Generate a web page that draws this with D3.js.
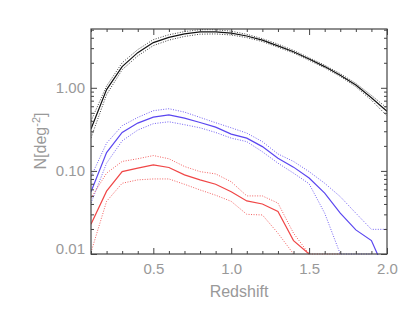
<!DOCTYPE html>
<html>
<head>
<meta charset="utf-8">
<script src="https://cdn.jsdelivr.net/npm/d3@7"></script>
<style>
  body{margin:0;background:#fff;}
  text{font-family:"Liberation Sans",Arial,sans-serif;}
</style>
</head>
<body>
<script>
// redshift grid
var redshift=[0.1,0.2,0.3,0.4,0.5,0.6,0.7,0.8,0.9,1.0,1.1,1.2,1.3,1.4,1.5,1.6,1.7,1.8,1.9,2.0];

// black
var blackMid=[0.32,0.95,1.8,2.65,3.5,4.05,4.45,4.7,4.72,4.55,4.2,3.75,3.2,2.72,2.22,1.8,1.42,1.08,0.76,0.52];
var blackHi=[0.4,1.05,2.0,2.88,3.8,4.35,4.75,5.0,5.0,4.8,4.4,3.9,3.35,2.82,2.3,1.87,1.48,1.13,0.81,0.57];
var blackLo=[0.25,0.83,1.65,2.42,3.22,3.75,4.15,4.42,4.45,4.32,4.02,3.6,3.08,2.62,2.14,1.74,1.37,1.03,0.71,0.46];

// blue
var blueMid=[0.056,0.166,0.29,0.376,0.444,0.473,0.431,0.382,0.336,0.277,0.248,0.196,0.142,0.111,0.082,0.054,0.031,0.0195,0.0145,0.0055];
var blueHi=[0.085,0.216,0.35,0.44,0.53,0.56,0.51,0.44,0.38,0.33,0.285,0.225,0.16,0.13,0.098,0.071,0.049,0.031,0.0198,0.0198];
var blueLo=[0.041,0.124,0.23,0.31,0.37,0.39,0.36,0.33,0.29,0.248,0.225,0.17,0.124,0.094,0.07,0.031,0.01,0.01,0.01,null];

// red
var redMid=[0.0228,0.057,0.098,0.108,0.118,0.11,0.0895,0.078,0.069,0.056,0.0435,0.04,0.0324,0.0145,0.01,null,null,null,null,null];
var redHi=[0.047,0.094,0.13,0.14,0.153,0.14,0.113,0.098,0.092,0.074,0.05,0.05,0.041,0.0178,0.01,0.01,0.01,null,null,null];
var redLo=[0.0105,0.043,0.071,0.078,0.08,0.08,0.069,0.059,0.051,0.043,0.03,0.0295,0.0178,0.01,null,null,null,null,null,null];

var xMajor=[0.5,1.0,1.5,2.0];
var yMajor=[0.01,0.1,1];

var drawChart=function()
{
  var screen={width:415,height:312};
  var margins={top:29,bottom:58,left:91,right:28};
  var width=screen.width-margins.left-margins.right;
  var height=screen.height-margins.top-margins.bottom;

  var svg=d3.select("body").append("svg")
            .attr("width",screen.width)
            .attr("height",screen.height);

  var xScale=d3.scaleLinear().domain([0.1,2.0]).range([0,width]);
  var yScale=d3.scaleLog().domain([0.01,5.1]).range([height,0]);

  var plot=svg.append("g")
              .attr("transform","translate("+margins.left+","+margins.top+")");

  plot.append("clipPath").attr("id","clip")
      .append("rect").attr("width",width).attr("height",height+1);

  var series=[
    {vals:blackHi,color:"#222",dash:"1,1.5"},
    {vals:blackLo,color:"#222",dash:"1,1.5"},
    {vals:blackMid,color:"#111",dash:null},
    {vals:blueHi,color:"#5a46f0",dash:"1,1.5"},
    {vals:blueLo,color:"#5a46f0",dash:"1,1.5"},
    {vals:blueMid,color:"#5a46f0",dash:null},
    {vals:redHi,color:"#f04646",dash:"1,1.5"},
    {vals:redLo,color:"#f04646",dash:"1,1.5"},
    {vals:redMid,color:"#f04646",dash:null}
  ];

  var line=d3.line()
             .defined(function(d){return d.v!=null;})
             .x(function(d){return xScale(d.z);})
             .y(function(d){return yScale(d.v);});

  plot.append("g").attr("clip-path","url(#clip)")
      .selectAll("path")
      .data(series)
      .enter()
      .append("path")
      .attr("fill","none")
      .attr("stroke",function(d){return d.color;})
      .attr("stroke-width",function(d){return d.dash?1:1.2;})
      .attr("stroke-opacity",function(d){return d.dash?0.85:1;})
      .attr("stroke-dasharray",function(d){return d.dash;})
      .attr("d",function(d){
        return line(d.vals.map(function(v,i){return {z:redshift[i],v:v};}));
      });

  // minor tick values
  var xMinor=d3.range(1,21).map(function(i){return i/10;})
               .filter(function(v){return xMajor.indexOf(v)<0;});
  var yMinor=[];
  [0.01,0.1,1].forEach(function(b){
    d3.range(2,10).forEach(function(k){ if(b*k<=5.1) yMinor.push(b*k); });
  });

  var axisColor="#444";
  var textColor="#999";

  var addAxis=function(axis,tx,ty)
  {
    var g=plot.append("g")
              .attr("transform","translate("+tx+","+ty+")")
              .call(axis);
    g.select(".domain").remove();
    g.selectAll("line").attr("stroke",axisColor);
    g.selectAll("text").attr("fill",textColor).style("font-size","15px");
    return g;
  };

  addAxis(d3.axisBottom(xScale).tickValues(xMajor).tickSize(-6).tickPadding(9)
          .tickFormat(d3.format(".1f")),0,height);
  addAxis(d3.axisBottom(xScale).tickValues(xMinor).tickSize(-3).tickFormat(""),0,height);
  addAxis(d3.axisTop(xScale).tickValues(xMajor).tickSize(-6).tickFormat(""),0,0);
  addAxis(d3.axisTop(xScale).tickValues(xMinor).tickSize(-3).tickFormat(""),0,0);

  var yl=addAxis(d3.axisLeft(yScale).tickValues(yMajor).tickSize(-6).tickPadding(6)
          .tickFormat(d3.format(".2f")),0,0);
  // bottom label sits a little above its tick
  yl.selectAll("text").filter(function(d){return d===0.01;}).attr("y",-5);
  addAxis(d3.axisLeft(yScale).tickValues(yMinor).tickSize(-3).tickFormat(""),0,0);
  addAxis(d3.axisRight(yScale).tickValues(yMajor).tickSize(-6).tickFormat(""),width,0);
  addAxis(d3.axisRight(yScale).tickValues(yMinor).tickSize(-3).tickFormat(""),width,0);

  // frame
  plot.append("rect")
      .attr("width",width).attr("height",height)
      .attr("fill","none").attr("stroke",axisColor).attr("stroke-width",1.2);

  // axis titles
  svg.append("text")
     .attr("x",margins.left+width/2)
     .attr("y",297)
     .attr("text-anchor","middle")
     .attr("fill",textColor)
     .style("font-size","16px")
     .text("Redshift");

  var yt=svg.append("text")
            .attr("transform","translate(46,141) rotate(-90)")
            .attr("text-anchor","middle")
            .attr("fill",textColor)
            .style("font-size","16px");
  yt.append("tspan").text("N[deg");
  yt.append("tspan").attr("dy","-6").style("font-size","11px").text("-2");
  yt.append("tspan").attr("dy","6").text("]");
};

drawChart();
</script>
</body>
</html>
